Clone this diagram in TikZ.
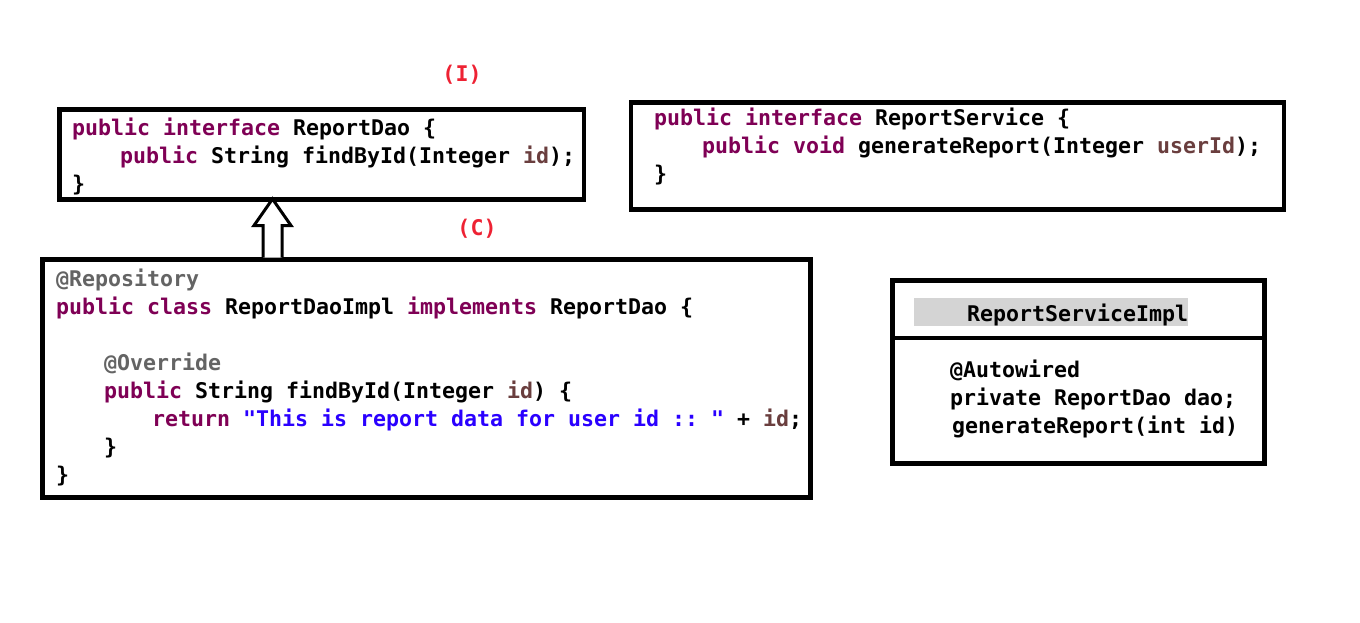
\documentclass[tikz,border=0pt]{standalone}
\usepackage{fontspec}
\setmonofont{DejaVu Sans Mono}
\usetikzlibrary{calc}
\definecolor{kw}{HTML}{7F0055}
\definecolor{ann}{HTML}{646464}
\definecolor{str}{HTML}{2A00FF}
\definecolor{var}{HTML}{6A3E3E}
\definecolor{lab}{HTML}{EE2233}
\definecolor{hl}{HTML}{D4D4D4}
\newcommand{\K}[1]{\textcolor{kw}{#1}}
\newcommand{\A}[1]{\textcolor{ann}{#1}}
\newcommand{\Sg}[1]{\textcolor{str}{#1}}
\newcommand{\V}[1]{\textcolor{var}{#1}}
\begin{document}
\begin{tikzpicture}[x=1pt,y=-1pt,
  codebox/.style={draw=black,line width=4.5pt,rectangle,inner sep=0pt,outer sep=0pt,fill=white},
  code/.style={anchor=base west,inner sep=0pt,outer sep=0pt,font=\fontsize{21.6}{28}\selectfont\ttfamily\bfseries},
  redlab/.style={inner sep=0pt,text=lab,font=\fontsize{21.6}{28}\selectfont\ttfamily\bfseries},
  hollow/.style={draw=black,line width=3pt,fill=white,line join=miter}]
\useasboundingbox (0,0) rectangle (1360,622);
% boxes
\node[codebox,minimum width=524.5pt,minimum height=90pt] (dao) at (321.75,154.5) {};
\node[codebox,minimum width=653pt,minimum height=107pt] (svc) at (957.5,156) {};
\node[codebox,minimum width=768pt,minimum height=238pt] (impl) at (426.5,378.5) {};
\node[codebox,minimum width=372pt,minimum height=183pt] (simpl) at (1078.5,372) {};
\coordinate (divl) at (892.5,338);
\coordinate (divr) at (1264.5,338);
\draw[line width=4.5pt] (divl) -- (divr);
\fill[hl] (914,298) rectangle (1188,326);
% labels
\node[redlab] (labI) at (462,75) {(I)};
\node[redlab] (labC) at (477,229) {(C)};
% ReportDao
\node[code] (d1) at (72,135) {\K{public interface} ReportDao \{};
\node[code] (d2) at (120,163) {\K{public} String findById(Integer \V{id});};
\node[code] (d3) at (72,191) {\}};
% ReportService
\node[code] (s1) at (654,125) {\K{public interface} ReportService \{};
\node[code] (s2) at (702,153) {\K{public void} generateReport(Integer \V{userId});};
\node[code] (s3) at (654,181) {\}};
% ReportDaoImpl
\node[code] (i1) at (56,286) {\A{@Repository}};
\node[code] (i2) at (56,314) {\K{public class} ReportDaoImpl \K{implements} ReportDao \{};
\node[code] (i3) at (104,370) {\A{@Override}};
\node[code] (i4) at (104,398) {\K{public} String findById(Integer \V{id}) \{};
\node[code] (i5) at (152,426) {\K{return} \Sg{"This is report data for user id :: "} + \V{id};};
\node[code] (i6) at (104,454) {\}};
\node[code] (i7) at (56,482) {\}};
% ReportServiceImpl
\node[code] (r0) at (967,321) {ReportServiceImpl};
\node[code] (r1) at (950,377) {@Autowired};
\node[code] (r2) at (950,405) {private ReportDao dao;};
\node[code] (r3) at (952,433) {generateReport(int id)};
% implements arrow
\coordinate (tip) at (272.5,199);
\coordinate (tail) at (272.5,257.5);
\draw[hollow]
  ($(tail)+(-9.5,0)$) -- ($(tail)+(-9.5,-32)$) -- ($(tail)+(-18.5,-32)$) --
  (tip) -- ($(tail)+(18.5,-32)$) -- ($(tail)+(9.5,-32)$) -- ($(tail)+(9.5,0)$);
\end{tikzpicture}
\end{document}
